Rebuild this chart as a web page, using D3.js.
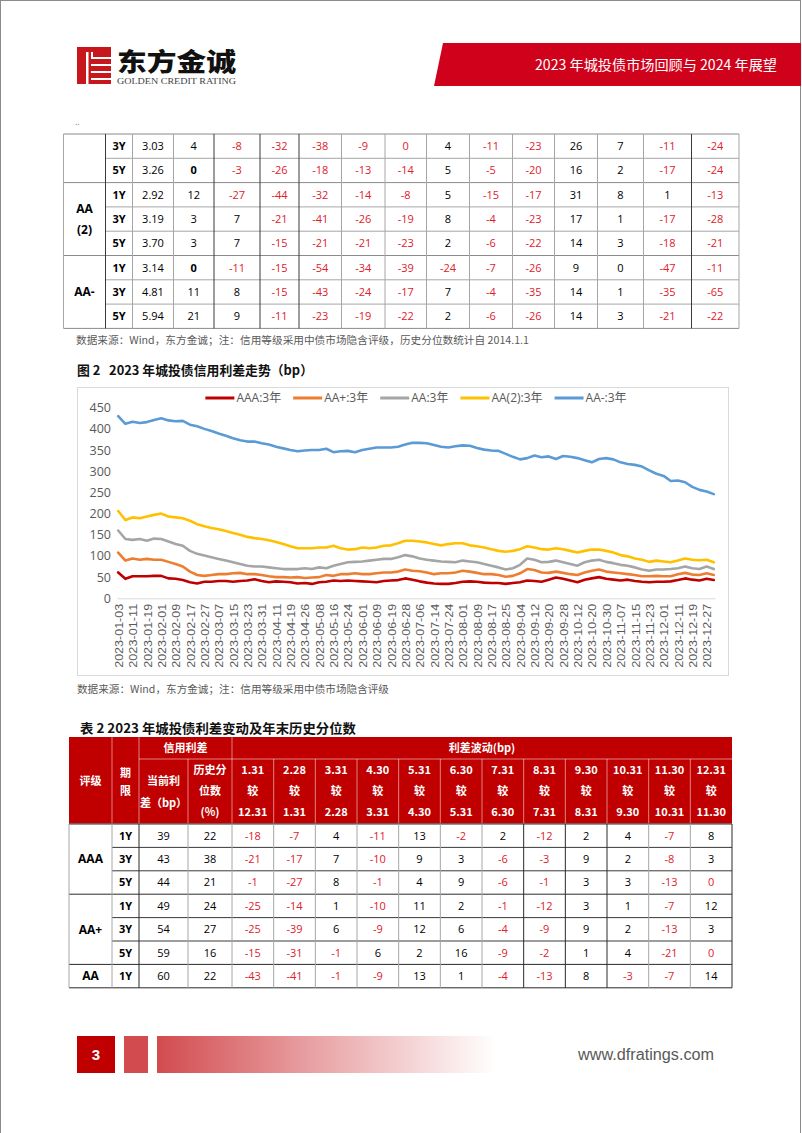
<!DOCTYPE html>
<html><head><meta charset="utf-8">
<script src="https://cdn.jsdelivr.net/npm/d3@7"></script>
<style>html,body{margin:0;padding:0;background:#fff}svg{display:block}</style>
</head><body><svg id="page" width="802" height="1133"></svg>
<script>
// ---------------- DATA ----------------
const xLabels = ["2023-01-03","2023-01-11","2023-01-19","2023-02-01","2023-02-09","2023-02-17","2023-02-27","2023-03-07","2023-03-15","2023-03-23","2023-03-31","2023-04-11","2023-04-19","2023-04-26","2023-05-08","2023-05-16","2023-05-24","2023-06-01","2023-06-09","2023-06-19","2023-06-28","2023-07-06","2023-07-14","2023-07-24","2023-08-01","2023-08-09","2023-08-17","2023-08-25","2023-09-04","2023-09-12","2023-09-20","2023-09-28","2023-10-12","2023-10-20","2023-10-30","2023-11-07","2023-11-15","2023-11-23","2023-12-01","2023-12-11","2023-12-19","2023-12-27"];
const labelStep = 6;      // trading days between axis labels
const sampleStep = 3;     // trading days between stored samples
const lastDay = 249;      // trading-day index of the final observation
const yTicks = [0,50,100,150,200,250,300,350,400,450];
const seriesNames = ["AAA:3年","AA+:3年","AA:3年","AA(2):3年","AA-:3年"];
const sAAA = [61,46,52,52,52,53,53,47,46,43,38,35,39,39,41,41,39,41,42,45,41,38,40,39,38,35,36,34,38,39,42,41,42,41,40,39,38,41,42,43,47,44,40,37,35,34,34,36,39,40,39,37,36,36,34,36,38,42,41,39,44,49,46,42,38,44,47,50,46,44,42,44,41,39,38,39,39,40,43,47,44,42,46,43];
const sAAp = [108,89,94,91,93,91,91,86,81,75,63,55,53,55,57,57,59,60,57,57,55,52,50,50,49,50,48,49,50,55,53,57,57,59,57,57,59,61,61,63,68,65,64,61,57,59,59,61,65,63,60,57,57,55,51,53,59,69,67,61,60,63,60,57,55,61,65,68,63,61,59,57,55,52,52,53,52,52,57,60,56,55,59,55];
const sAA = [160,140,138,140,136,141,140,134,128,124,112,105,101,97,93,89,85,81,77,75,75,73,71,69,69,69,71,69,73,71,77,81,85,86,87,89,91,93,93,97,102,99,94,91,89,87,86,85,89,87,85,81,77,73,68,71,79,94,91,85,86,89,85,81,77,85,89,91,86,83,79,77,73,68,65,68,68,69,71,75,71,69,75,69];
const sAA2 = [206,185,191,189,193,197,200,193,191,189,183,175,170,166,163,159,154,150,145,142,140,137,133,128,123,118,118,118,120,120,124,118,115,116,120,118,120,124,125,130,136,136,134,132,128,125,128,130,130,125,123,120,116,112,110,112,116,123,120,116,115,118,116,112,108,112,115,115,112,108,102,99,94,91,86,89,87,85,89,94,91,90,91,85];
const sAAm = [430,412,417,414,416,421,425,420,418,419,410,406,400,395,389,384,378,373,370,370,366,363,358,354,350,347,349,350,350,353,345,347,348,345,350,353,356,356,356,358,363,367,367,366,362,358,356,359,361,360,355,351,349,348,341,334,328,331,337,333,335,329,336,334,331,326,321,329,331,328,321,317,315,311,302,294,289,277,278,274,263,256,252,246];

// Table (top, continued from previous page)
const topGroups = [{name:[],rows:2},{name:["AA","(2)"],rows:3},{name:["AA-"],rows:3}];
const topTenors = ["3Y","5Y","1Y","3Y","5Y","1Y","3Y","5Y"];
const topCurrent = ["3.03","3.26","2.92","3.19","3.70","3.14","4.81","5.94"];
const topPct = [4,0,12,3,3,0,11,21];
const topChanges = [
 [-8,-32,-38,-9,0,4,-11,-23,26,7,-11,-24],
 [-3,-26,-18,-13,-14,5,-5,-20,16,2,-17,-24],
 [-27,-44,-32,-14,-8,5,-15,-17,31,8,1,-13],
 [7,-21,-41,-26,-19,8,-4,-23,17,1,-17,-28],
 [7,-15,-21,-21,-23,2,-6,-22,14,3,-18,-21],
 [-11,-15,-54,-34,-39,-24,-7,-26,9,0,-47,-11],
 [8,-15,-43,-24,-17,7,-4,-35,14,1,-35,-65],
 [9,-11,-23,-19,-22,2,-6,-26,14,3,-21,-22]];
const topRedZeros = ["0-4"];

// Table 2
const botGroups = [{name:["AAA"],rows:3},{name:["AA+"],rows:3},{name:["AA"],rows:1}];
const botTenors = ["1Y","3Y","5Y","1Y","3Y","5Y","1Y"];
const botCurrent = [39,43,44,49,54,59,60];
const botPct = [22,38,21,24,27,16,22];
const botChanges = [
 [-18,-7,4,-11,13,-2,2,-12,2,4,-7,8],
 [-21,-17,7,-10,9,3,-6,-3,9,2,-8,3],
 [-1,-27,8,-1,4,9,-6,-1,3,3,-13,0],
 [-25,-14,1,-10,11,2,-1,-12,3,1,-7,12],
 [-25,-39,6,-9,12,6,-4,-9,9,2,-13,3],
 [-15,-31,-1,6,2,16,-9,-2,1,4,-21,0],
 [-43,-41,-1,-9,13,1,-4,-13,8,-3,-7,14]];
const botRedZeros = ["2-11","5-11"];
const periodEnd = ["1.31","2.28","3.31","4.30","5.31","6.30","7.31","8.31","9.30","10.31","11.30","12.31"];
const periodStart = ["12.31","1.31","2.28","3.31","4.30","5.31","6.30","7.31","8.31","9.30","10.31","11.30"];

// ---------------- STYLE / LAYOUT ----------------
const CJK = '"Noto Sans CJK SC","Noto Sans",sans-serif';
const NUM = '"Open Sans","Noto Sans CJK SC",sans-serif';
const RED = "#e0202a";
const seriesColors = ["#c00000","#ed7d31","#a5a5a5","#ffc000","#5b9bd5"];

const svg = d3.select("#page");
svg.append("rect").attr("x",0.5).attr("y",0.5).attr("width",800).attr("height",1140)
  .attr("fill","#fff").attr("stroke","#8c8c8c");

// ---------- header ----------
const hdr = svg.append("g");
hdr.append("polygon").attr("points","443,43 801,43 801,86 434,86").attr("fill","#d0021b");
hdr.append("text").attr("x",777).attr("y",69.5).attr("text-anchor","end")
  .attr("font-family",CJK).attr("font-size",14).attr("fill","#fff")
  .attr("textLength",242).attr("lengthAdjust","spacingAndGlyphs")
  .text("2023 年城投债市场回顾与 2024 年展望");
// logo
const logo = hdr.append("g");
logo.append("rect").attr("x",77).attr("y",47).attr("width",34).attr("height",37).attr("fill","#c8161d");
logo.append("rect").attr("x",86).attr("y",52).attr("width",2.5).attr("height",32).attr("fill","#fff");
[57,64,71,78].forEach(v=>logo.append("rect").attr("x",91).attr("y",v).attr("width",20).attr("height",2).attr("fill","#fff"));
logo.append("rect").attr("x",91).attr("y",52).attr("width",2).attr("height",6).attr("fill","#fff");
logo.append("text").attr("x",117).attr("y",70.5).attr("font-family",CJK).attr("font-weight",900)
  .attr("font-size",25).attr("fill","#111").attr("textLength",119).attr("lengthAdjust","spacingAndGlyphs").text("东方金诚");
logo.append("text").attr("x",117).attr("y",84).attr("font-family",'"Liberation Serif",serif')
  .attr("font-size",8.4).attr("fill","#444").attr("textLength",119).attr("lengthAdjust","spacingAndGlyphs").text("GOLDEN CREDIT RATING");

svg.append("text").attr("x",75).attr("y",125).attr("font-size",9).attr("fill","#777").attr("font-family",NUM).text("..");

// ---------- generic table body ----------
function drawBody(cfg){
  const g = svg.append("g");
  const {cols,y0,rowH,groups,tenors,current,pct,changes,redZeros,darkV,hLine,hGroup,vLight,vDark,boldZeroPct} = cfg;
  const nRows = tenors.length;
  const cx = i => (cols[i]+cols[i+1])/2;
  const cy = r => y0 + (r+0.5)*rowH;
  let r0 = 0; const bounds=[0];
  groups.forEach(gr=>{
    const mid = y0 + (r0 + gr.rows/2)*rowH;
    gr.name.forEach((t,k)=>{
      g.append("text").attr("x",cx(0)).attr("y",mid + (k-(gr.name.length-1)/2)*21)
       .attr("dy","0.35em").attr("text-anchor","middle").attr("font-family",NUM)
       .attr("font-weight",700).attr("font-size",12).attr("fill","#000").text(t);
    });
    r0 += gr.rows; bounds.push(r0);
  });
  for(let r=0;r<nRows;r++){
    const row=[tenors[r],current[r],pct[r]].concat(changes[r]);
    row.forEach((v,c)=>{
      let fill="#000", weight=400;
      if(c===0) weight=700;
      if(c===2 && boldZeroPct && v===0) weight=700;
      if(c>=3){
        if(v<0 || redZeros.includes(r+"-"+(c-3))) fill=RED;
      }
      g.append("text").attr("x",cx(c+1)).attr("y",cy(r)).attr("dy","0.36em")
       .attr("text-anchor","middle").attr("font-family",NUM).attr("font-size",11)
       .attr("font-weight",weight).attr("fill",fill).text(v);
    });
  }
  for(let r=0;r<=nRows;r++){
    const isB = bounds.includes(r);
    g.append("line").attr("x1",isB?cols[0]:cols[1]).attr("x2",cols[cols.length-1])
     .attr("y1",y0+r*rowH).attr("y2",y0+r*rowH)
     .attr("stroke", isB? hGroup : hLine).attr("stroke-width",1);
  }
  cols.forEach((x,i)=>{
    g.append("line").attr("x1",x).attr("x2",x).attr("y1",y0).attr("y2",y0+nRows*rowH)
     .attr("stroke",darkV.includes(i)?vDark:vLight).attr("stroke-width",1);
  });
}

// ---------- top table ----------
drawBody({
  cols:[63.5,105.5,132.5,173.5,214,260,299,341.5,385,426.5,469.5,512.5,554.5,597.5,643.5,691.5,739],
  y0:134, rowH:24.3, groups:topGroups, tenors:topTenors, current:topCurrent, pct:topPct,
  changes:topChanges, redZeros:topRedZeros, darkV:[1,4,5,6,15],
  hLine:"#a6a6a6", hGroup:"#8a8a8a", vLight:"#a6a6a6", vDark:"#3a3a3a", boldZeroPct:true
});
svg.append("text").attr("x",76).attr("y",343.5).attr("font-family",CJK).attr("font-size",10)
  .attr("fill","#595959").attr("textLength",453).attr("lengthAdjust","spacingAndGlyphs")
  .text("数据来源：Wind，东方金诚；注：信用等级采用中债市场隐含评级，历史分位数统计自 2014.1.1");

// ---------- chart ----------
svg.append("text").attr("x",77).attr("y",375).attr("font-family",CJK).attr("font-weight",700)
  .attr("font-size",13).attr("fill","#111").attr("textLength",236).attr("lengthAdjust","spacingAndGlyphs")
  .text("图 2\u00a0\u00a0 2023 年城投债信用利差走势（bp）");
const chart = svg.append("g");
chart.append("rect").attr("x",77.5).attr("y",387.5).attr("width",651).attr("height",288)
  .attr("fill","#fff").attr("stroke","#d9d9d9");
const x = d3.scaleLinear().domain([-0.5,lastDay+0.5]).range([117,715]);
const y = d3.scaleLinear().domain([0,450]).range([598.3,407.7]);

const yAxis = chart.append("g").attr("transform",`translate(${x.range()[0]},0)`)
  .call(d3.axisLeft(y).tickValues(yTicks).tickSize(0).tickPadding(6));
yAxis.select(".domain").remove();
yAxis.selectAll("text").attr("font-family",NUM).attr("font-size",12.5).attr("fill","#595959");

const labelIdx = xLabels.map((d,i)=>i*labelStep);
const xAxis = chart.append("g").attr("transform",`translate(0,${y(0)})`)
  .call(d3.axisBottom(x).tickValues(labelIdx).tickFormat((d,i)=>xLabels[i]).tickSize(0).tickSizeOuter(0));
xAxis.select(".domain").attr("stroke","#d9d9d9");
xAxis.selectAll("text").attr("transform","rotate(-90)").attr("text-anchor","end")
  .attr("x",-5.5).attr("y",0).attr("dy","0.36em").attr("font-family",'"Liberation Sans",Arial,sans-serif').attr("font-size",11.5)
  .attr("fill","#595959").attr("textLength",64).attr("lengthAdjust","spacingAndGlyphs");

const allSeries = [sAAA,sAAp,sAA,sAA2,sAAm];
const line = d3.line().x(d=>x(d[0])).y(d=>y(d[1]));
allSeries.forEach((vals,k)=>{
  const pts = vals.map((v,i)=>[i<vals.length-1 ? i*sampleStep : lastDay, v]);
  chart.append("path").datum(pts).attr("d",line).attr("fill","none")
    .attr("stroke",seriesColors[k]).attr("stroke-width",2.6).attr("stroke-linejoin","round").attr("stroke-linecap","round");
});

// legend
const leg = chart.append("g");
const items = [];
seriesNames.forEach((n,k)=>{
  const it = leg.append("g");
  it.append("line").attr("x1",0).attr("x2",29).attr("y1",0).attr("y2",0)
    .attr("stroke",seriesColors[k]).attr("stroke-width",3);
  const t = it.append("text").attr("x",31).attr("y",0).attr("dy","0.36em")
    .attr("font-family",NUM).attr("font-size",12).attr("fill","#595959").text(n);
  items.push({g:it,w:31+t.node().getComputedTextLength()});
});
const gap = 12;
const total = d3.sum(items,d=>d.w)+gap*(items.length-1);
let lx = (x.range()[0]+x.range()[1])/2 - total/2;
items.forEach(d=>{ d.g.attr("transform",`translate(${lx},398)`); lx += d.w+gap; });

svg.append("text").attr("x",77).attr("y",692.5).attr("font-family",CJK).attr("font-size",10)
  .attr("fill","#595959").attr("textLength",312).attr("lengthAdjust","spacingAndGlyphs")
  .text("数据来源：Wind，东方金诚；注：信用等级采用中债市场隐含评级");

// ---------- table 2 ----------
svg.append("text").attr("x",80).attr("y",733).attr("font-family",CJK).attr("font-weight",700)
  .attr("font-size",13).attr("fill","#111").attr("textLength",276).attr("lengthAdjust","spacingAndGlyphs")
  .text("表 2 2023 年城投债利差变动及年末历史分位数");

const bcols = [69,112,139,188,232];
for(let i=1;i<=12;i++) bcols.push(232 + i*500/12);
const th = svg.append("g");
const hTop=737, hMid=759, hBot=823.5;
th.append("rect").attr("x",bcols[0]).attr("y",hTop).attr("width",bcols[16]-bcols[0]).attr("height",hBot-hTop).attr("fill","#c00000");
const sep = "rgba(255,255,255,0.5)";
bcols.slice(1,16).forEach((xx,i)=>{
  const idx=i+1;
  const top = (idx===1||idx===2||idx===4) ? hTop : hMid;
  th.append("line").attr("x1",xx).attr("x2",xx).attr("y1",top).attr("y2",hBot).attr("stroke",sep);
});
th.append("line").attr("x1",bcols[2]).attr("x2",bcols[16]).attr("y1",hMid).attr("y2",hMid).attr("stroke",sep);
function ht(xx,yy,t){
  th.append("text").attr("x",xx).attr("y",yy).attr("dy","0.36em").attr("text-anchor","middle")
    .attr("font-family",CJK).attr("font-weight",700).attr("font-size",11).attr("fill","#fff").text(t);
}
const hcx = i => (bcols[i]+bcols[i+1])/2;
ht(hcx(0),781,"评级");
ht(hcx(1),773,"期"); ht(hcx(1),791,"限");
ht((bcols[2]+bcols[4])/2,748,"信用利差");
ht((bcols[4]+bcols[16])/2,748,"利差波动(bp)");
ht(hcx(2),781,"当前利"); ht(hcx(2),803,"差（bp）");
ht(hcx(3),770,"历史分"); ht(hcx(3),791,"位数"); ht(hcx(3),812,"(%)");
periodEnd.forEach((p,i)=>{ ht(hcx(4+i),770,p); ht(hcx(4+i),791,"较"); ht(hcx(4+i),812,periodStart[i]); });

drawBody({
  cols:bcols, y0:824, rowH:23.4, groups:botGroups, tenors:botTenors, current:botCurrent, pct:botPct,
  changes:botChanges, redZeros:botRedZeros, darkV:[2,11,12,13,16],
  hLine:"#3a3a3a", hGroup:"#2a2a2a", vLight:"#a6a6a6", vDark:"#2a2a2a", boldZeroPct:false
});

// ---------- footer ----------
const ft = svg.append("g");
const grad = svg.append("defs").append("linearGradient").attr("id","fg").attr("x1","0").attr("x2","1");
grad.append("stop").attr("offset","0").attr("stop-color","#d24b4e");
grad.append("stop").attr("offset","0.45").attr("stop-color","#e8a0a3");
grad.append("stop").attr("offset","1").attr("stop-color","#ffffff");
ft.append("rect").attr("x",77).attr("y",1036).attr("width",38).attr("height",37).attr("fill","#c00000");
ft.append("text").attr("x",96).attr("y",1054.5).attr("dy","0.36em").attr("text-anchor","middle")
  .attr("font-family",'"Liberation Sans",sans-serif').attr("font-weight",700).attr("font-size",15).attr("fill","#fff").text("3");
ft.append("rect").attr("x",124).attr("y",1036).attr("width",24).attr("height",37).attr("fill","#d24b4e");
ft.append("rect").attr("x",157).attr("y",1036).attr("width",339).attr("height",37).attr("fill","url(#fg)");
ft.append("text").attr("x",578).attr("y",1054.5).attr("dy","0.36em")
  .attr("font-family",'"Liberation Sans",sans-serif').attr("font-size",16).attr("fill","#595959")
  .attr("textLength",136).attr("lengthAdjust","spacingAndGlyphs").text("www.dfratings.com");
</script></body></html>
